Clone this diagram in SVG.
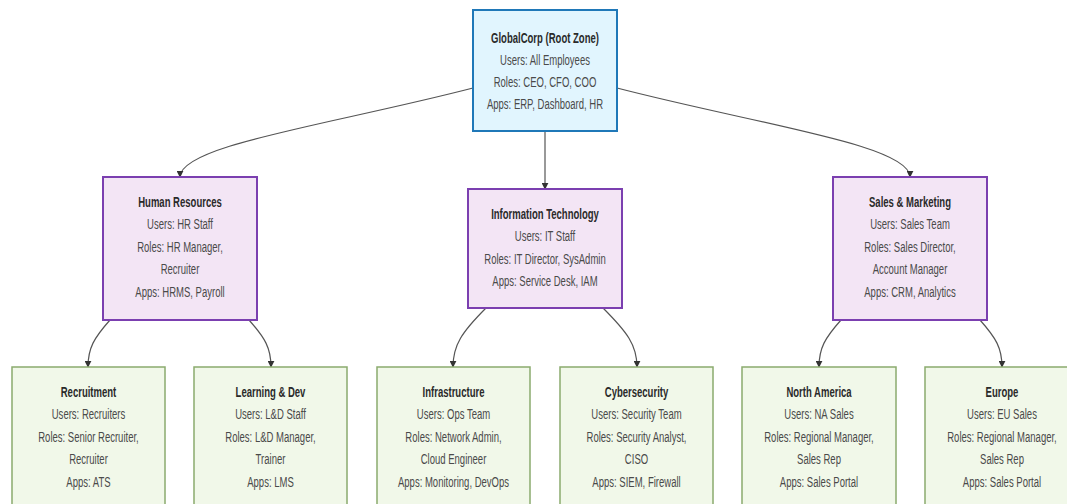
<svg xmlns="http://www.w3.org/2000/svg" width="1067" height="504" viewBox="0 0 1067 504">
<style>
  .root { fill: #e1f5fe; stroke: #1f78b8; stroke-width: 2; }
  .mid { fill: #f3e5f5; stroke: #7b3fb0; stroke-width: 2; }
  .leaf { fill: #f1f8e9; stroke: #8aab6e; stroke-width: 1.5; }
  text { font-family: "Liberation Sans", Arial, sans-serif; font-size: 14px; fill: #4a4a4a; text-anchor: middle; }
  text.t { fill: #2a2a2a; font-weight: bold; }
  .edge { fill: none; stroke: #555; stroke-width: 1.2; }
</style>
<defs>
  <marker id="arr" viewBox="0 0 10 10" refX="9" refY="5" markerWidth="7" markerHeight="7" markerUnits="userSpaceOnUse" orient="auto">
    <path d="M0,0 L10,5 L0,10 z" fill="#333"/>
  </marker>
</defs>
<rect width="1067" height="504" fill="#ffffff"/>

<g id="connectors">
  <path class="edge" marker-end="url(#arr)" d="M473,88 C330,125 180,145 180,177"/>
  <path class="edge" marker-end="url(#arr)" d="M545,131 L545,189"/>
  <path class="edge" marker-end="url(#arr)" d="M617,88 C760,125 910,145 910,177"/>
  <path class="edge" marker-end="url(#arr)" d="M110,320 C94,338 88,348 88,367"/>
  <path class="edge" marker-end="url(#arr)" d="M249,320 C265,338 271,348 271,367"/>
  <path class="edge" marker-end="url(#arr)" d="M486,308 C462,332 453,345 453,367"/>
  <path class="edge" marker-end="url(#arr)" d="M603,308 C627,332 637,345 637,367"/>
  <path class="edge" marker-end="url(#arr)" d="M841,320 C825,338 819,348 819,367"/>
  <path class="edge" marker-end="url(#arr)" d="M980,320 C996,338 1002,348 1002,367"/>
</g>

<g id="root">
  <rect class="root" x="473" y="10" width="144" height="121"/>
  <g transform="translate(545,0) scale(0.68,1)">
    <text class="t" x="0" y="43">GlobalCorp (Root Zone)</text>
    <text x="0" y="65">Users: All Employees</text>
    <text x="0" y="87">Roles: CEO, CFO, COO</text>
    <text x="0" y="109">Apps: ERP, Dashboard, HR</text>
  </g>
</g>

<g id="hr">
  <rect class="mid" x="103" y="177" width="154" height="143"/>
  <g transform="translate(180,0) scale(0.68,1)">
    <text class="t" x="0" y="207">Human Resources</text>
    <text x="0" y="229.5">Users: HR Staff</text>
    <text x="0" y="252">Roles: HR Manager,</text>
    <text x="0" y="274.5">Recruiter</text>
    <text x="0" y="297">Apps: HRMS, Payroll</text>
  </g>
</g>

<g id="it">
  <rect class="mid" x="468" y="189" width="154" height="119"/>
  <g transform="translate(545,0) scale(0.68,1)">
    <text class="t" x="0" y="219">Information Technology</text>
    <text x="0" y="241.5">Users: IT Staff</text>
    <text x="0" y="264">Roles: IT Director, SysAdmin</text>
    <text x="0" y="286">Apps: Service Desk, IAM</text>
  </g>
</g>

<g id="sales">
  <rect class="mid" x="833" y="177" width="154" height="143"/>
  <g transform="translate(910,0) scale(0.68,1)">
    <text class="t" x="0" y="207">Sales &amp; Marketing</text>
    <text x="0" y="229.5">Users: Sales Team</text>
    <text x="0" y="252">Roles: Sales Director,</text>
    <text x="0" y="274.5">Account Manager</text>
    <text x="0" y="297">Apps: CRM, Analytics</text>
  </g>
</g>

<g id="recruitment">
  <rect class="leaf" x="12" y="367" width="153" height="143"/>
  <g transform="translate(88.5,0) scale(0.68,1)">
    <text class="t" x="0" y="397">Recruitment</text>
    <text x="0" y="419.5">Users: Recruiters</text>
    <text x="0" y="442">Roles: Senior Recruiter,</text>
    <text x="0" y="464.5">Recruiter</text>
    <text x="0" y="487">Apps: ATS</text>
  </g>
</g>

<g id="learning">
  <rect class="leaf" x="194" y="367" width="153" height="143"/>
  <g transform="translate(270.5,0) scale(0.68,1)">
    <text class="t" x="0" y="397">Learning &amp; Dev</text>
    <text x="0" y="419.5">Users: L&amp;D Staff</text>
    <text x="0" y="442">Roles: L&amp;D Manager,</text>
    <text x="0" y="464.5">Trainer</text>
    <text x="0" y="487">Apps: LMS</text>
  </g>
</g>

<g id="infrastructure">
  <rect class="leaf" x="377" y="367" width="153" height="143"/>
  <g transform="translate(453.5,0) scale(0.68,1)">
    <text class="t" x="0" y="397">Infrastructure</text>
    <text x="0" y="419.5">Users: Ops Team</text>
    <text x="0" y="442">Roles: Network Admin,</text>
    <text x="0" y="464.5">Cloud Engineer</text>
    <text x="0" y="487">Apps: Monitoring, DevOps</text>
  </g>
</g>

<g id="cybersecurity">
  <rect class="leaf" x="560" y="367" width="153" height="143"/>
  <g transform="translate(636.5,0) scale(0.68,1)">
    <text class="t" x="0" y="397">Cybersecurity</text>
    <text x="0" y="419.5">Users: Security Team</text>
    <text x="0" y="442">Roles: Security Analyst,</text>
    <text x="0" y="464.5">CISO</text>
    <text x="0" y="487">Apps: SIEM, Firewall</text>
  </g>
</g>

<g id="northamerica">
  <rect class="leaf" x="742" y="367" width="154" height="143"/>
  <g transform="translate(819,0) scale(0.68,1)">
    <text class="t" x="0" y="397">North America</text>
    <text x="0" y="419.5">Users: NA Sales</text>
    <text x="0" y="442">Roles: Regional Manager,</text>
    <text x="0" y="464.5">Sales Rep</text>
    <text x="0" y="487">Apps: Sales Portal</text>
  </g>
</g>

<g id="europe">
  <rect class="leaf" x="925" y="367" width="154" height="143"/>
  <g transform="translate(1002,0) scale(0.68,1)">
    <text class="t" x="0" y="397">Europe</text>
    <text x="0" y="419.5">Users: EU Sales</text>
    <text x="0" y="442">Roles: Regional Manager,</text>
    <text x="0" y="464.5">Sales Rep</text>
    <text x="0" y="487">Apps: Sales Portal</text>
  </g>
</g>
</svg>
